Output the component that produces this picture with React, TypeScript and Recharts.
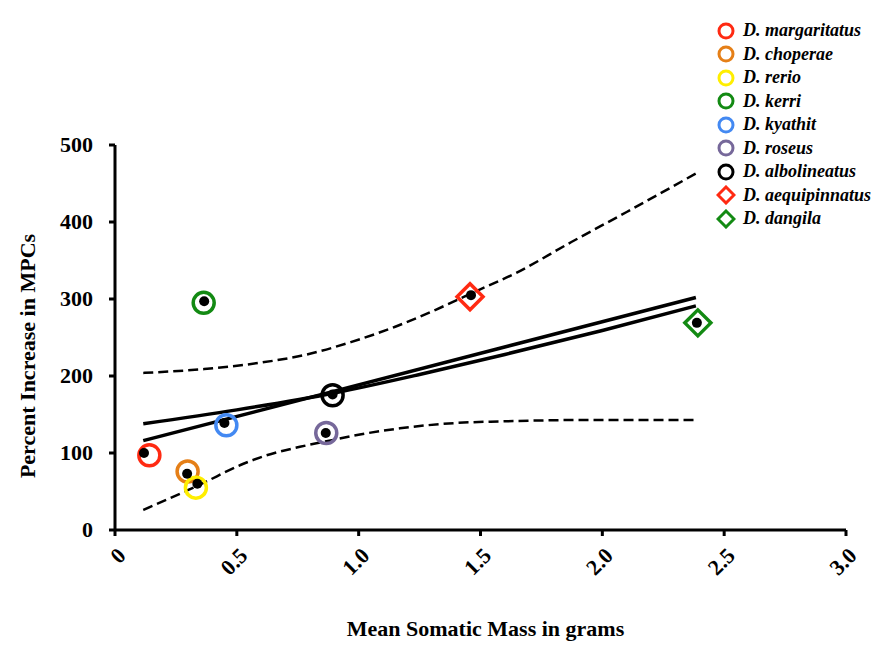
import React from 'react'
import { ComposedChart, Line, Scatter, XAxis, YAxis } from 'recharts'

// species, legend order
const species = [
  'D. margaritatus',
  'D. choperae',
  'D. rerio',
  'D. kerri',
  'D. kyathit',
  'D. roseus',
  'D. albolineatus',
  'D. aequipinnatus',
  'D. dangila',
]
const speciesColors = ['#ff2a12', '#e57f17', '#ffee00', '#138a13', '#4389f2', '#76689a', '#000000', '#ff2a12', '#138a13']
const speciesShapes = ['circle', 'circle', 'circle', 'circle', 'circle', 'circle', 'circle', 'diamond', 'diamond']

// coloured open markers
const markerX = [0.141, 0.298, 0.332, 0.364, 0.457, 0.867, 0.893, 1.457, 2.392]
const markerY = [97, 76, 55, 295, 136, 126, 175, 303, 269]
// black data dots
const dotX = [0.119, 0.296, 0.338, 0.366, 0.449, 0.865, 0.893, 1.461, 2.388]
const dotY = [100, 73, 60, 297, 139, 126, 176, 305, 269]

// fitted lines
const linearX = [0.116, 2.384]
const linearY = [116, 302]
const curveX = [0.116, 0.5, 0.9, 1.25, 1.6, 2.0, 2.384]
const curveY = [138, 156, 178, 202, 228, 259, 291]
const upperX = [0.116, 0.366, 0.591, 0.788, 0.968, 1.15, 1.316, 1.453, 1.647, 1.873, 2.1, 2.384]
const upperY = [204, 209, 217, 228, 244, 264, 286, 306, 334, 374, 413, 463]
const lowerX = [0.116, 0.294, 0.349, 0.527, 0.622, 0.759, 0.896, 1.005, 1.169, 1.4, 1.58, 2.0, 2.384]
const lowerY = [26, 51, 59, 86, 97, 108, 117, 124, 132, 139, 141, 143, 143]

const xTicks = [0, 0.5, 1.0, 1.5, 2.0, 2.5, 3.0]
const yTicks = [0, 100, 200, 300, 400, 500]

const toPoints = (xs: number[], ys: number[]) => xs.map((x, i) => ({ x, y: ys[i] }))

const serif = '"Liberation Serif", "Times New Roman", serif'

const XTick = (props: any) => {
  const { x, y, payload } = props
  const label = payload.value === 0 ? '0' : payload.value.toFixed(1)
  const ax = x + 12
  const ay = y + 19
  return (
    <text x={ax} y={ay} transform={`rotate(-45 ${ax} ${ay})`} textAnchor="end" fontSize={22} fontWeight="bold" fontFamily={serif} fill="#000">
      {label}
    </text>
  )
}

const YTick = (props: any) => {
  const { x, y, payload } = props
  return (
    <text x={x} y={y + 7} textAnchor="end" fontSize={22} fontWeight="bold" fontFamily={serif} fill="#000">
      {payload.value}
    </text>
  )
}

const XTitle = (props: any) => {
  const { viewBox } = props
  const cx = viewBox.x + viewBox.width / 2 + 5
  return (
    <text x={cx} y={636} textAnchor="middle" fontSize={22} fontWeight="bold" fontFamily={serif} fill="#000">
      Mean Somatic Mass in grams
    </text>
  )
}

const YTitle = () => {
  const cx = 35
  const cy = 356
  return (
    <text x={cx} y={cy} transform={`rotate(-90 ${cx} ${cy})`} textAnchor="middle" fontSize={22} fontWeight="bold" fontFamily={serif} fill="#000">
      Percent Increase in MPCs
    </text>
  )
}

const Marker = (color: string, shape: string) => (props: any) => {
  const { cx, cy } = props
  if (shape === 'diamond') {
    const r = 13
    return <polygon points={`${cx},${cy - r} ${cx + r},${cy} ${cx},${cy + r} ${cx - r},${cy}`} fill="none" stroke={color} strokeWidth={3.5} />
  }
  return <circle cx={cx} cy={cy} r={10.5} fill="none" stroke={color} strokeWidth={3.5} />
}

const BlackDot = (props: any) => <circle cx={props.cx} cy={props.cy} r={5} fill="#000" />

const LegendIcon = ({ color, shape }: { color: string; shape: string }) => (
  <svg width={20} height={20} style={{ display: 'block' }}>
    {shape === 'diamond' ? (
      <polygon points="10,2 18,10 10,18 2,10" fill="none" stroke={color} strokeWidth={3} />
    ) : (
      <circle cx={10} cy={10} r={7} fill="none" stroke={color} strokeWidth={3} />
    )}
  </svg>
)

export default function App() {
  return (
    <div style={{ position: 'absolute', left: 0, top: 0, width: 892, height: 661, background: '#fff', fontFamily: serif }}>
      <ComposedChart width={892} height={661} margin={{ top: 145, right: 46, bottom: 21, left: 0 }}>
        <XAxis
          type="number"
          dataKey="x"
          domain={[0, 3]}
          ticks={xTicks}
          interval={0}
          height={110}
          axisLine={{ stroke: '#000', strokeWidth: 3 }}
          tickLine={{ stroke: '#000', strokeWidth: 3 }}
          tickSize={6}
          tick={<XTick />}
          label={<XTitle />}
        />
        <YAxis
          type="number"
          dataKey="y"
          domain={[0, 500]}
          ticks={yTicks}
          interval={0}
          width={115}
          axisLine={{ stroke: '#000', strokeWidth: 3 }}
          tickLine={{ stroke: '#000', strokeWidth: 3 }}
          tickSize={6}
          tickMargin={16}
          tick={<YTick />}
          label={<YTitle />}
        />
        <Line data={toPoints(upperX, upperY)} dataKey="y" type="monotone" stroke="#000" strokeWidth={2.5} strokeDasharray="10 5" dot={false} isAnimationActive={false} />
        <Line data={toPoints(lowerX, lowerY)} dataKey="y" type="monotone" stroke="#000" strokeWidth={2.5} strokeDasharray="10 5" dot={false} isAnimationActive={false} />
        <Line data={toPoints(linearX, linearY)} dataKey="y" type="linear" stroke="#000" strokeWidth={3.5} dot={false} isAnimationActive={false} />
        <Line data={toPoints(curveX, curveY)} dataKey="y" type="monotone" stroke="#000" strokeWidth={3.5} dot={false} isAnimationActive={false} />
        {species.map((name, i) => (
          <Scatter
            key={name}
            name={name}
            data={[{ x: markerX[i], y: markerY[i] }]}
            shape={Marker(speciesColors[i], speciesShapes[i])}
            isAnimationActive={false}
          />
        ))}
        <Scatter name="data" data={toPoints(dotX, dotY)} shape={BlackDot} isAnimationActive={false} />
      </ComposedChart>
      <div style={{ position: 'absolute', left: 716, top: 19 }}>
        {species.map((name, i) => (
          <div key={name} style={{ display: 'flex', alignItems: 'center', height: 23.5 }}>
            <LegendIcon color={speciesColors[i]} shape={speciesShapes[i]} />
            <span style={{ marginLeft: 7, fontSize: 18, fontWeight: 'bold', fontStyle: 'italic', fontFamily: serif, color: '#000' }}>{name}</span>
          </div>
        ))}
      </div>
    </div>
  )
}
